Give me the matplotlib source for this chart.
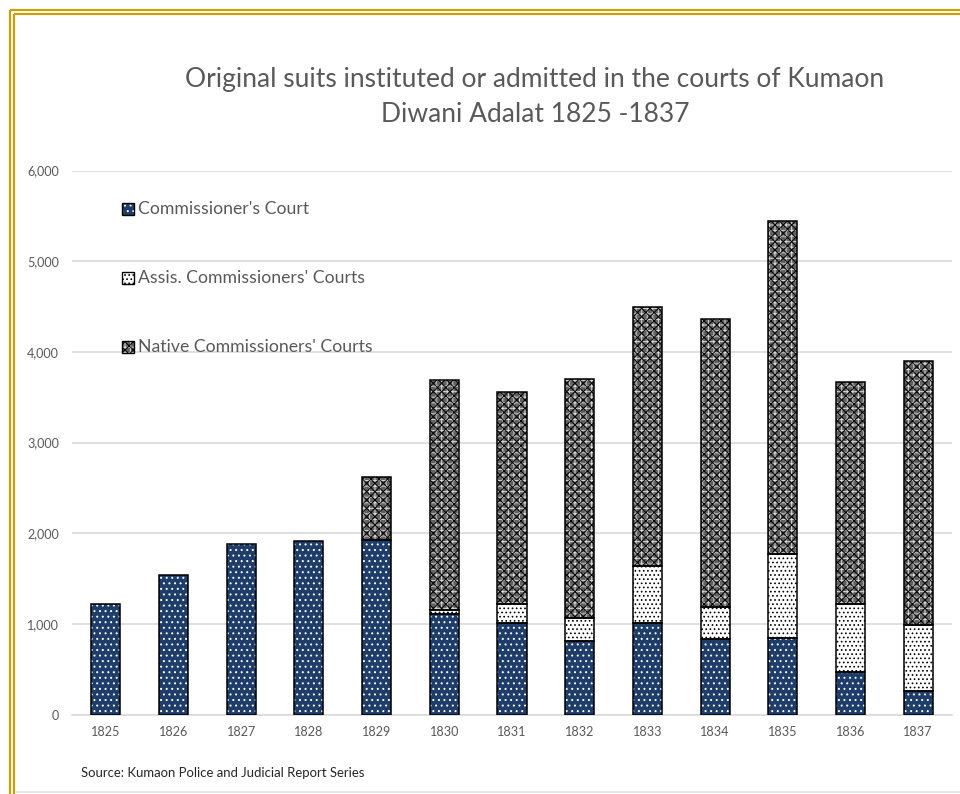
import matplotlib
matplotlib.use("Agg")
import matplotlib.pyplot as plt
from matplotlib.patches import Rectangle
from matplotlib.lines import Line2D
from matplotlib.ticker import FuncFormatter, MultipleLocator
import numpy as np

plt.rcParams['font.family'] = ['Lato', 'DejaVu Sans']
plt.rcParams['hatch.linewidth'] = 0.7

# ---------------- data ----------------
years = ['1825', '1826', '1827', '1828', '1829', '1830', '1831',
         '1832', '1833', '1834', '1835', '1836', '1837']
commissioners_court = [1220, 1540, 1878, 1915, 1920, 1110, 1011, 813, 1004, 835, 849, 467, 254]
assis_commissioners = [0, 0, 0, 0, 0, 45, 206, 253, 632, 356, 923, 753, 731]
native_commissioners = [0, 0, 0, 0, 700, 2535, 2343, 2634, 2854, 3169, 3668, 2450, 2915]
series_labels = ["Commissioner's Court", "Assis. Commissioners' Courts",
                 "Native Commissioners' Courts"]
title_lines = ["Original suits instituted or admitted in the courts of Kumaon",
               "Diwani Adalat 1825 -1837"]
source_text = "Source: Kumaon Police and Judicial Report Series"

# ---------------- styles ----------------
W, H = 960, 794
TEXT_GRAY = '#595959'
NAVY = '#1F3D6B'
GOLD = '#C8A00A'

# each series: list of (facecolor, hatchcolor, hatch) layers
styles = [
    [(NAVY, 'white', '...')],
    [('white', 'black', '....')],
    [('#626262', '#d8d8d8', '+++'), ('none', 'black', 'xxxx')],
]

fig = plt.figure(figsize=(W / 100, H / 100), dpi=100)
fig.patch.set_facecolor('white')

def fx(px):
    return px / W

def fy(py):
    return 1 - py / H

ax = fig.add_axes([fx(72), fy(714.5), fx(952) - fx(72), fy(170.5) - fy(714.5)])

x = np.arange(len(years))
bw = 0.43
bottom = np.zeros(len(years))
for vals, layers in zip([commissioners_court, assis_commissioners, native_commissioners], styles):
    vals = np.array(vals, dtype=float)
    for fc, hc, hatch in layers:
        ax.bar(x, vals, bw, bottom=bottom, color=fc, edgecolor=hc, hatch=hatch,
               linewidth=0, zorder=3)
    mask = vals > 0
    ax.bar(x[mask], vals[mask], bw, bottom=bottom[mask], facecolor='none',
           edgecolor='black', linewidth=1.1, zorder=4)
    bottom = bottom + vals

ax.set_xlim(-0.5, len(years) - 0.5)
ax.set_ylim(0, 6000)
ax.yaxis.set_major_locator(MultipleLocator(1000))
ax.yaxis.set_major_formatter(FuncFormatter(lambda v, p: f"{int(v):,}"))
ax.set_xticks(x)
ax.set_xticklabels(years)
ax.grid(axis='y', color='#d9d9d9', linewidth=1.2, zorder=0)
ax.set_axisbelow(True)
for s in ['top', 'right', 'left']:
    ax.spines[s].set_visible(False)
ax.spines['bottom'].set_color('#d9d9d9')
ax.spines['bottom'].set_linewidth(1.2)
ax.tick_params(axis='both', length=0, colors=TEXT_GRAY, labelsize=9)
ax.tick_params(axis='y', pad=9.5)
ax.tick_params(axis='x', pad=8.0)

# title
t1 = fig.text(fx(535), fy(80), title_lines[0], ha='center', va='center',
              color=TEXT_GRAY, fontsize=20)
t2 = fig.text(fx(535), fy(115), title_lines[1], ha='center', va='center',
              color=TEXT_GRAY, fontsize=20)

# legend (manual)
leg_rows = [209, 278, 347]
leg_texts = []
for lab, layers, ry in zip(series_labels, styles, leg_rows):
    for fc, hc, hatch in layers:
        fig.add_artist(Rectangle((fx(122), fy(ry + 6)), fx(12), fy(ry - 6) - fy(ry + 6),
                                 transform=fig.transFigure, facecolor=fc, edgecolor=hc,
                                 hatch=hatch, linewidth=0))
    fig.add_artist(Rectangle((fx(122), fy(ry + 6)), fx(12), fy(ry - 6) - fy(ry + 6),
                             transform=fig.transFigure, facecolor='none',
                             edgecolor='black', linewidth=1.0))
    leg_texts.append(fig.text(fx(138), fy(ry), lab, ha='left', va='center',
                              color=TEXT_GRAY, fontsize=12))

src = fig.text(fx(81), fy(773), source_text, ha='left', va='center',
               color='#262626', fontsize=8.5)

# fit text sizes to reference widths
fig.canvas.draw()
r = fig.canvas.get_renderer()

def fit(t, target):
    w = t.get_window_extent(r).width
    t.set_fontsize(t.get_fontsize() * target / w)

fit(t1, 699)
t2.set_fontsize(t1.get_fontsize())
fit(leg_texts[0], 169)
for lt in leg_texts[1:]:
    lt.set_fontsize(leg_texts[0].get_fontsize())
fit(src, 285)
lbl = ax.get_yticklabels()[-1]
w = lbl.get_window_extent(r).width
ax.tick_params(axis='both', labelsize=9 * 32 / w)

# frame: gold double border (left & top), light gray bottom line
for off in (10, 14):
    fig.add_artist(Line2D([fx(off), fx(off)], [fy(off), 0], transform=fig.transFigure,
                          color=GOLD, linewidth=1.6, solid_capstyle='butt'))
    fig.add_artist(Line2D([fx(off), 1], [fy(off), fy(off)], transform=fig.transFigure,
                          color=GOLD, linewidth=1.6, solid_capstyle='butt'))
fig.add_artist(Line2D([fx(16), 1], [fy(792), fy(792)], transform=fig.transFigure,
                      color='#e3e3e3', linewidth=1.2))

fig.savefig('out.png', dpi=100)
